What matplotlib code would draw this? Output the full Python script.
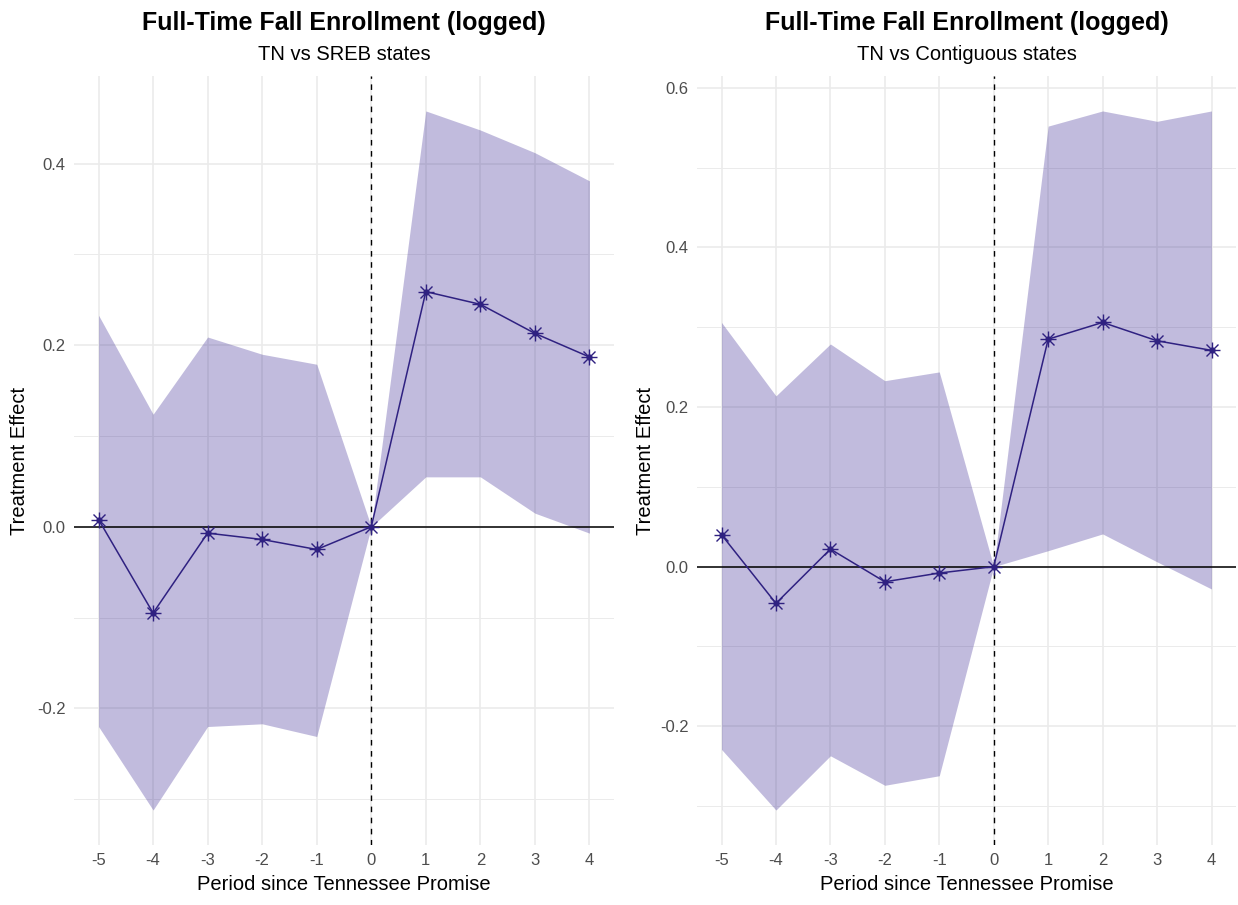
import matplotlib.pyplot as plt
import numpy as np

plt.rcParams["font.family"] = ["Liberation Sans", "DejaVu Sans"]

periods = [-5, -4, -3, -2, -1, 0, 1, 2, 3, 4]

# TN vs SREB states
sreb_est = [0.008, -0.095, -0.007, -0.014, -0.025, 0.0, 0.259, 0.245, 0.213, 0.187]
sreb_hi = [0.233, 0.124, 0.209, 0.190, 0.179, 0.0, 0.458, 0.437, 0.412, 0.381]
sreb_lo = [-0.220, -0.312, -0.220, -0.217, -0.231, 0.0, 0.055, 0.055, 0.015, -0.007]

# TN vs Contiguous states
cont_est = [0.040, -0.046, 0.022, -0.019, -0.008, 0.0, 0.285, 0.306, 0.283, 0.271]
cont_hi = [0.306, 0.214, 0.279, 0.233, 0.244, 0.0, 0.552, 0.571, 0.558, 0.571]
cont_lo = [-0.229, -0.305, -0.237, -0.274, -0.262, 0.0, 0.020, 0.041, 0.006, -0.028]

main_title = "Full-Time Fall Enrollment (logged)"
subtitles = ["TN vs SREB states", "TN vs Contiguous states"]

line_col = "#2f2181"
fill_col = "#3f2d96"
grid_col = "#ebebeb"

W, H = 1238, 905
fig = plt.figure(figsize=(W / 100, H / 100), dpi=100)

panels = [
    (74, 614, sreb_est, sreb_lo, sreb_hi, [-0.2, 0.0, 0.2, 0.4], [-0.3, -0.1, 0.1, 0.3], 20),
    (697, 1236, cont_est, cont_lo, cont_hi, [-0.2, 0.0, 0.2, 0.4, 0.6], [-0.3, -0.1, 0.1, 0.3, 0.5], 645),
]

for i, (x0, x1, est, lo, hi, yt, ymin, ylab_x) in enumerate(panels):
    ax = fig.add_axes([x0 / W, (H - 845) / H, (x1 - x0) / W, (845 - 76) / H])
    x = np.array(periods)

    ax.fill_between(x, lo, hi, color=fill_col, alpha=0.32, lw=0, zorder=2)
    ax.axhline(0, color="black", lw=1.1, zorder=3)
    ax.axvline(0, color="black", lw=1.0, ls=(0, (4, 4)), zorder=3)
    ax.plot(x, est, color=line_col, lw=1.1, zorder=4)
    ax.plot(x, est, ls="none", marker="+", ms=12, mew=1.0, color=line_col, zorder=5)
    ax.plot(x, est, ls="none", marker="x", ms=8.5, mew=1.0, color=line_col, zorder=5)
    ax.plot(x, est, ls="none", marker="o", ms=3.5, color=line_col, zorder=5)

    lo_all = min(lo)
    hi_all = max(hi)
    pad = (hi_all - lo_all) * 0.05
    ax.set_ylim(lo_all - pad, hi_all + pad)
    ax.set_xlim(-5.45, 4.45)

    ax.set_xticks(periods)
    ax.set_xticklabels([str(p) for p in periods])
    ax.set_yticks(yt)
    ax.set_yticklabels([f"{v:.1f}" for v in yt])
    ax.set_yticks(ymin, minor=True)

    ax.grid(True, which="major", color=grid_col, lw=1.2, zorder=0)
    ax.grid(True, which="minor", axis="y", color=grid_col, lw=0.7, zorder=0)
    ax.set_axisbelow(True)
    for s in ax.spines.values():
        s.set_visible(False)
    ax.tick_params(which="both", length=0, labelsize=12, labelcolor="#4d4d4d", pad=6)

    ax.set_xlabel("Period since Tennessee Promise", fontsize=14.5, labelpad=5)
    ax.set_ylabel("")
    yc = 1 - ((76 + 845) / 2) / H
    fig.text(ylab_x / W, yc, "Treatment Effect", rotation=90, fontsize=14.5,
             ha="center", va="center")

    xc = (x0 + x1) / 2 / W
    fig.text(xc, 1 - 23 / H, main_title, fontsize=18, fontweight="bold",
             ha="center", va="center")
    fig.text(xc, 1 - 55 / H, subtitles[i], fontsize=14.5, ha="center", va="center")

fig.savefig("out.png", dpi=100, facecolor="white")
